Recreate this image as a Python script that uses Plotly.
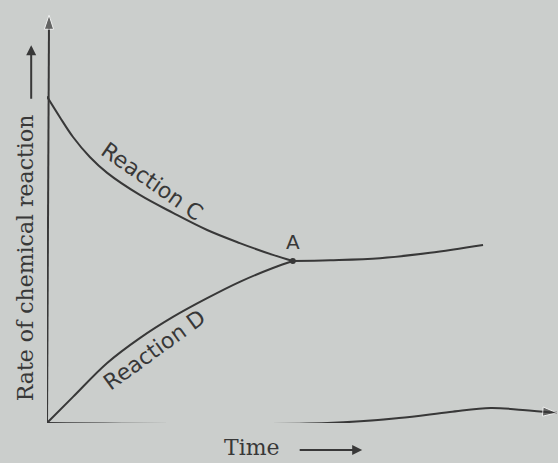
import plotly.graph_objects as go

# curves (time, rate) in arbitrary units
c_time = [0.0, 0.25, 0.51, 0.84, 1.18, 1.82, 2.47, 3.14, 3.78, 4.43, 4.82]
c_rate = [8.0, 7.5, 7.01, 6.52, 6.13, 5.59, 5.15, 4.73, 4.41, 4.12, 3.97]

# after point A both reactions go on at the same rate
after_time = [4.82, 5.55, 6.53, 7.51, 8.55]
after_rate = [3.97, 3.99, 4.04, 4.17, 4.36]

d_time = [0.0, 0.51, 1.18, 1.82, 2.47, 3.14, 3.78, 4.43, 4.82]
d_rate = [0.0, 0.64, 1.47, 2.08, 2.60, 3.06, 3.46, 3.80, 3.97]

# the page in the photo is bent, so the time axis wobbles a little
base_time = [0.0, 5.5, 6.9, 7.9, 8.7, 9.33, 10.0]
base_rate = [0.0, 0.0, 0.12, 0.27, 0.37, 0.32, 0.25]

point_a = (4.82, 3.97)

ink = "#383838"
bg = "#cbcecc"

fig = go.Figure()

# y axis with arrow
fig.add_trace(go.Scatter(x=[0, 0.04], y=[0, 10], mode="lines+markers", cliponaxis=False,
                         line=dict(color=ink, width=2),
                         marker=dict(symbol="arrow", angleref="previous", size=[0, 15], color=ink),
                         hoverinfo="skip", showlegend=False))
# x axis with arrow
fig.add_trace(go.Scatter(x=base_time, y=base_rate, mode="lines+markers", cliponaxis=False,
                         line=dict(color=ink, width=2, shape="spline"),
                         marker=dict(symbol="arrow", angleref="previous",
                                     size=[0] * (len(base_time) - 1) + [15], color=ink),
                         hoverinfo="skip", showlegend=False))

for xs, ys in [(c_time, c_rate), (after_time, after_rate), (d_time, d_rate)]:
    fig.add_trace(go.Scatter(x=xs, y=ys, mode="lines", cliponaxis=False,
                             line=dict(color=ink, width=2, shape="spline"), showlegend=False))
fig.add_trace(go.Scatter(x=[point_a[0]], y=[point_a[1]], mode="markers",
                         marker=dict(color=ink, size=6), showlegend=False))

serif = "DejaVu Serif"
sans = "DejaVu Sans"


def px(t):
    return t / 10.0


fig.add_annotation(x=2.06, y=5.91, text="Reaction C", showarrow=False, textangle=35,
                   font=dict(family=sans, size=22, color=ink))
fig.add_annotation(x=2.12, y=1.79, text="Reaction D", showarrow=False, textangle=-36,
                   font=dict(family=sans, size=22, color=ink))
fig.add_annotation(x=point_a[0], y=point_a[1] + 0.47, text="A", showarrow=False,
                   font=dict(family=sans, size=20, color=ink))

# axis titles (outside the plot area, so placed on paper)
fig.add_annotation(x=px(4.02), y=px(-0.6), xref="paper", yref="paper", text="Time",
                   xanchor="center", yanchor="middle",
                   showarrow=False, font=dict(family=serif, size=22, color=ink))
fig.add_annotation(x=px(6.18), y=px(-0.66), xref="paper", yref="paper", ax=-64, ay=0,
                   text="", showarrow=True, arrowhead=2, arrowsize=1, arrowwidth=2, arrowcolor=ink)
fig.add_annotation(x=px(-0.43), y=px(4.04), xref="paper", yref="paper",
                   text="Rate of chemical reaction", showarrow=False, textangle=-90,
                   xanchor="center", yanchor="middle",
                   font=dict(family=serif, size=22, color=ink))
fig.add_annotation(x=px(-0.31), y=px(9.26), xref="paper", yref="paper", ax=0, ay=55,
                   text="", showarrow=True, arrowhead=2, arrowsize=1, arrowwidth=2, arrowcolor=ink)

fig.update_xaxes(range=[0, 10], visible=False)
fig.update_yaxes(range=[0, 10], visible=False)
fig.update_layout(width=558, height=463,
                  margin=dict(l=47, r=1, t=15, b=40),
                  paper_bgcolor=bg, plot_bgcolor=bg)

fig.write_html("out.html", config={"displayModeBar": False},
               post_script="document.body.style.margin='0';")
